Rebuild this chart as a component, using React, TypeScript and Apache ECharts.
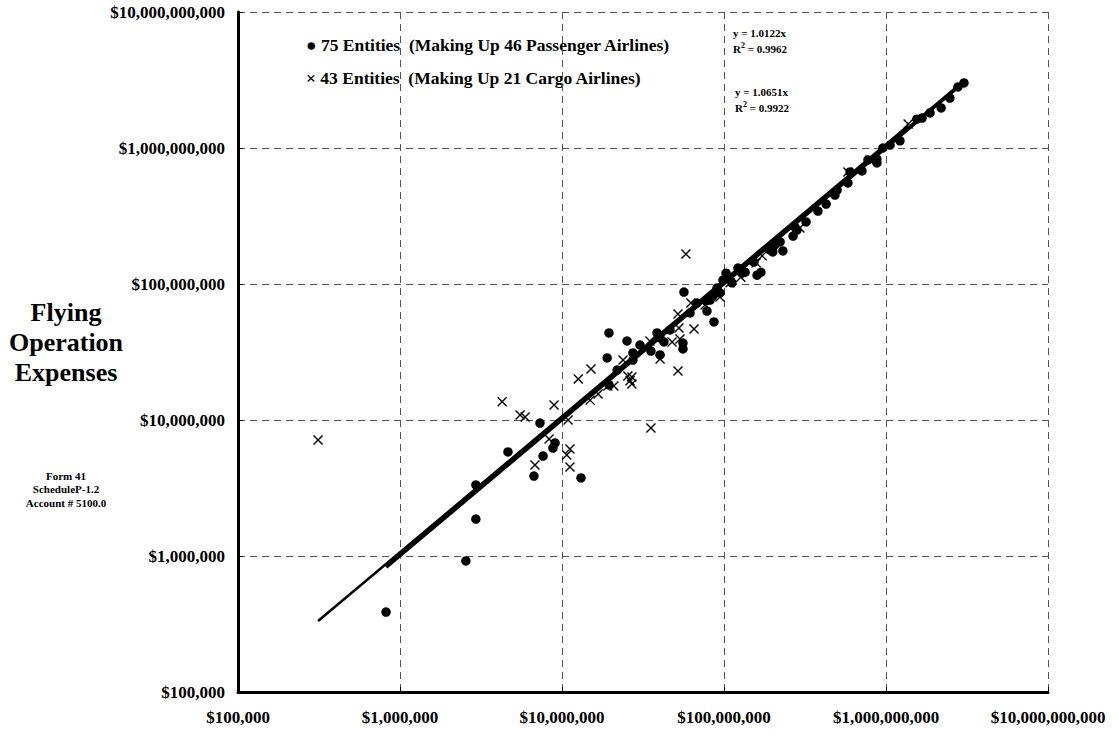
import React, { useEffect, useRef } from "react";
import * as echarts from "echarts";

// Passenger airlines (x: revenue / y: flying operation expenses)
const passengerX = [
  8.2e5, 2.55e6, 2.94e6, 2.94e6, 4.64e6, 6.71e6, 7.31e6, 7.64e6, 8.79e6, 9.06e6,
  1.31e7, 1.9e7, 1.95e7, 1.95e7, 2.19e7, 2.52e7, 2.74e7, 2.74e7, 3.54e7, 3.86e7,
  4.03e7, 4.26e7, 4.03e7, 5.58e7, 5.58e7, 5.66e7, 6.81e7, 7.74e7, 8.2e7, 7.85e7,
  8.67e7, 9.06e7, 9.44e7, 1.03e8, 1.12e8, 1.22e8, 1.29e8, 1.35e8, 1.6e8, 1.69e8,
  2.0e8, 2.06e8, 2.31e8, 2.67e8, 2.74e8, 2.82e8, 3.8e8, 4.84e8, 4.99e8, 5.82e8,
  6.0e8, 7.11e8, 8.79e8, 8.79e8, 9.57e8, 1.22e9, 1.55e9, 1.67e9, 2.19e9, 2.78e9,
  3.03e9, 3.03e7, 4.64e7, 6.17e7, 9.86e7, 1.53e8, 3.21e8, 4.27e8, 7.74e8, 1.06e9,
  1.87e9, 2.48e9, 8.55e7, 1.92e8, 2.22e8,
];
const passengerY = [
  3.87e5, 9.2e5, 1.87e6, 3.33e6, 5.82e6, 3.87e6, 9.5e6, 5.43e6, 6.22e6, 6.78e6,
  3.75e6, 2.86e7, 4.37e7, 1.81e7, 2.33e7, 3.81e7, 3.11e7, 2.76e7, 3.21e7, 4.37e7,
  4.01e7, 3.75e7, 3.01e7, 3.68e7, 3.33e7, 8.73e7, 7.24e7, 7.5e7, 7.62e7, 6.32e7,
  5.26e7, 9.35e7, 8.59e7, 1.2e8, 1.02e8, 1.31e8, 1.2e8, 1.22e8, 1.16e8, 1.22e8,
  1.72e8, 1.94e8, 1.75e8, 2.25e8, 2.62e8, 2.49e8, 3.44e8, 4.51e8, 4.91e8, 5.53e8,
  6.67e8, 6.78e8, 7.76e8, 8.3e8, 1.0e9, 1.13e9, 1.63e9, 1.66e9, 1.97e9, 2.81e9,
  3.01e9, 3.56e7, 4.59e7, 6.12e7, 1.07e8, 1.45e8, 2.86e8, 3.87e8, 8.17e8, 1.05e9,
  1.81e9, 2.33e9, 8.17e7, 1.78e8, 2.04e8,
];

// Cargo airlines
const cargoX = [
  3.12e5, 4.27e6, 5.51e6, 5.92e6, 8.93e6, 1.09e7, 8.32e6, 1.12e7, 1.07e7, 1.12e7,
  6.81e6, 1.26e7, 1.51e7, 1.49e7, 1.67e7, 1.92e7, 2.09e7, 2.38e7, 2.55e7, 2.7e7,
  2.63e7, 2.7e7, 3.54e7, 3.49e7, 4.03e7, 4.78e7, 5.2e7, 5.27e7, 5.35e7, 6.53e7,
  5.2e7, 6.25e7, 5.82e7, 9.44e7, 1.27e8, 1.58e8, 1.72e8, 5.82e8, 1.37e9, 7.64e7,
  1.09e8, 2.94e8, 7.96e8,
];
const cargoY = [
  7.13e6, 1.36e7, 1.09e7, 1.05e7, 1.29e7, 1.0e7, 7.24e6, 6.12e6, 5.53e6, 4.51e6,
  4.67e6, 2.0e7, 2.37e7, 1.4e7, 1.55e7, 1.78e7, 1.78e7, 2.76e7, 2.11e7, 2.07e7,
  1.94e7, 1.84e7, 8.73e6, 3.81e7, 2.81e7, 3.75e7, 6.01e7, 4.74e7, 3.94e7, 4.67e7,
  2.29e7, 7.24e7, 1.66e8, 8.02e7, 1.12e8, 1.43e8, 1.61e8, 6.67e8, 1.5e9, 7.02e7,
  1.02e8, 2.58e8, 8.17e8,
];

// Trend lines (y = slope * x) over each group's x range
const passengerSlope = 1.0122;
const passengerR2 = "0.9962";
const cargoSlope = 1.0651;
const cargoR2 = "0.9922";

const axisTicks = [1e5, 1e6, 1e7, 1e8, 1e9, 1e10];

const passengerLabel = "75 Entities  (Making Up 46 Passenger Airlines)";
const cargoLabel = "43 Entities  (Making Up 21 Cargo Airlines)";
const yTitle = "Flying\nOperation\nExpenses";
const yNote = "Form 41\nScheduleP-1.2\nAccount # 5100.0";

const FONT = "'Liberation Serif', 'Times New Roman', serif";

function fmt(v: number): string {
  const r = Math.round(v);
  return "$" + r.toLocaleString("en-US");
}

export default function App() {
  const ref = useRef<HTMLDivElement>(null);

  useEffect(() => {
    if (!ref.current) return;
    const chart = echarts.init(ref.current, undefined, { renderer: "svg" });

    const pMin = Math.min(...passengerX);
    const pMax = Math.max(...passengerX);
    const cMin = Math.min(...cargoX);
    const cMax = Math.max(...cargoX);

    const axisCommon = {
      type: "log" as const,
      logBase: 10,
      min: axisTicks[0],
      max: axisTicks[axisTicks.length - 1],
      axisLine: { show: true, onZero: false, lineStyle: { color: "#000", width: 3 } },
      axisTick: { show: true, inside: true, length: 5, lineStyle: { color: "#000", width: 1 } },
      minorTick: { show: false },
      splitLine: {
        show: true,
        lineStyle: { color: "#555", width: 1, type: [7, 5] as any },
      },
      axisLabel: {
        formatter: (v: number) => fmt(v),
        fontFamily: FONT,
        fontWeight: "bold" as const,
        fontSize: 17,
        color: "#000",
      },
    };

    const eqRich = {
      s: { fontSize: 8, fontWeight: "bold", fontFamily: FONT, verticalAlign: "top", padding: [0, 0, 5, 0] },
    };

    chart.setOption({
      animation: false,
      backgroundColor: "#fff",
      grid: { left: 238, top: 12, width: 810, height: 680, containLabel: false },
      xAxis: { ...axisCommon, axisLabel: { ...axisCommon.axisLabel, margin: 17 } },
      yAxis: { ...axisCommon, axisLabel: { ...axisCommon.axisLabel, margin: 13 } },
      series: [
        {
          type: "line",
          data: [
            [cMin, cMin * cargoSlope],
            [cMax, cMax * cargoSlope],
          ],
          symbol: "none",
          lineStyle: { color: "#000", width: 2.5 },
          z: 3,
        },
        {
          type: "line",
          data: [
            [pMin, pMin * passengerSlope],
            [pMax, pMax * passengerSlope],
          ],
          symbol: "none",
          lineStyle: { color: "#000", width: 4 },
          z: 3,
        },
        {
          type: "scatter",
          name: passengerLabel,
          data: passengerX.map((x, i) => [x, passengerY[i]]),
          symbol: "circle",
          symbolSize: 9.5,
          itemStyle: { color: "#000", opacity: 1 },
          z: 4,
        },
        {
          type: "scatter",
          name: cargoLabel,
          data: cargoX.map((x, i) => [x, cargoY[i]]),
          symbol: "path://M0,0L10,10M10,0L0,10",
          symbolSize: 9,
          itemStyle: { color: "none", borderColor: "#000", borderWidth: 1.4, opacity: 1 },
          z: 5,
        },
      ],
      graphic: [
        {
          type: "text",
          x: 66,
          y: 297,
          style: {
            text: yTitle,
            font: `bold 26px ${FONT}`,
            fill: "#000",
            align: "center",
            lineHeight: 30,
          },
        },
        {
          type: "text",
          x: 66,
          y: 469,
          style: {
            text: yNote,
            font: `bold 11px ${FONT}`,
            fill: "#000",
            align: "center",
            lineHeight: 13.5,
          },
        },
        {
          type: "text",
          x: 306,
          y: 36,
          style: { text: "\u25CF " + passengerLabel, font: `bold 17.5px ${FONT}`, fill: "#000" },
        },
        {
          type: "text",
          x: 306,
          y: 69,
          style: { text: "\u00D7 " + cargoLabel, font: `bold 17.5px ${FONT}`, fill: "#000" },
        },
        {
          type: "text",
          x: 733,
          y: 25,
          style: {
            text: `y = ${passengerSlope.toFixed(4)}x\nR{s|2} = ${passengerR2}`,
            font: `bold 11px ${FONT}`,
            fill: "#000",
            lineHeight: 16,
            rich: eqRich,
          } as any,
        },
        {
          type: "text",
          x: 735,
          y: 84,
          style: {
            text: `y = ${cargoSlope.toFixed(4)}x\nR{s|2} = ${cargoR2}`,
            font: `bold 11px ${FONT}`,
            fill: "#000",
            lineHeight: 16,
            rich: eqRich,
          } as any,
        },
      ],
    });

    return () => chart.dispose();
  }, []);

  return (
    <div
      ref={ref}
      style={{ position: "absolute", left: 0, top: 0, width: 1119, height: 740, background: "#fff" }}
    />
  );
}
